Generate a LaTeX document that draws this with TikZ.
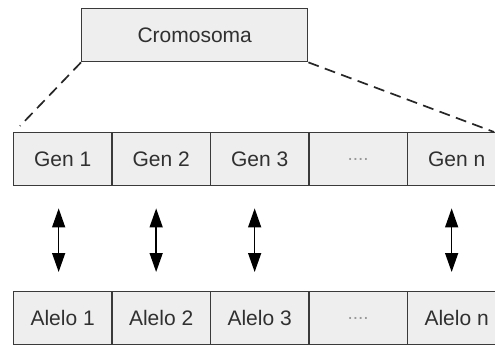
\documentclass[tikz,border=0pt]{standalone}
\usepackage{fontspec}
\setmainfont{Liberation Sans}
\usetikzlibrary{arrows.meta}
\definecolor{cellfill}{HTML}{EEEEEE}
\definecolor{cellline}{HTML}{3A3A3A}
\definecolor{celltext}{HTML}{303030}
\tikzset{
  cell/.style={draw=cellline, fill=cellfill, line width=1.4pt, rectangle,
    minimum width=98.5pt, minimum height=53pt, anchor=north west,
    inner sep=0pt, text=celltext, font=\fontsize{21}{24}\selectfont},
  zoomline/.style={draw=black!85, line width=1.7pt, dash pattern=on 11pt off 6.5pt},
  link/.style={draw=black, line width=1.4pt,
    {Triangle[length=19pt,width=13pt]}-{Triangle[length=19pt,width=13pt]}}
}
\newcommand{\gapdots}{\textcolor{black!40}{\fontsize{19}{22}\selectfont ....}}
\begin{document}
\begin{tikzpicture}[x=1pt,y=-1pt]
\clip (0,0) rectangle (495,345);
\fill[white] (0,0) rectangle (495,345);
% chromosome
\node[cell, minimum width=226pt] (crom) at (81,8) {Cromosoma};
% genes and alleles
\node[cell] (g1) at (12.7,132) {Gen 1};
\node[cell] (g2) at (111.2,132) {Gen 2};
\node[cell] (g3) at (209.7,132) {Gen 3};
\node[cell] (g4) at (308.2,132) {\gapdots};
\node[cell] (g5) at (406.7,132) {Gen n};
\node[cell] (a1) at (12.7,291) {Alelo 1};
\node[cell] (a2) at (111.2,291) {Alelo 2};
\node[cell] (a3) at (209.7,291) {Alelo 3};
\node[cell] (a4) at (308.2,291) {\gapdots};
\node[cell] (a5) at (406.7,291) {Alelo n};
% zoom-out dashed lines
\coordinate (zl) at (20,126);
\coordinate (zr) at (494,132);
\draw[zoomline] (crom.south west) -- (zl);
\draw[zoomline] (crom.south east) -- (zr);
% gene-allele correspondences
\foreach \i/\dx in {1/-4,2/-5,3/-5,5/-5}{
  \draw[link] ([xshift=\dx pt, yshift=-22pt]g\i.south) -- ([xshift=\dx pt, yshift=19pt]a\i.north);
}
\end{tikzpicture}
\end{document}
